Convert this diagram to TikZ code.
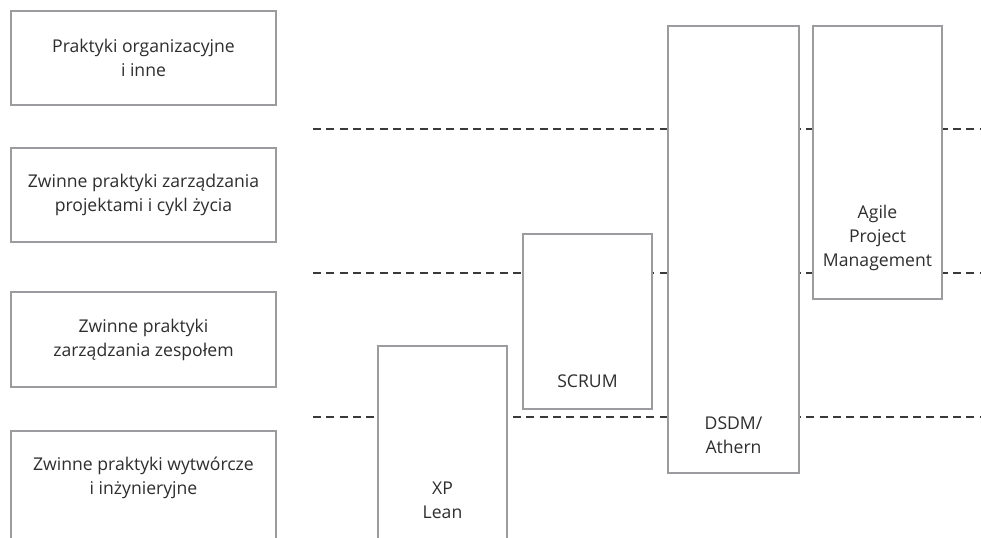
\documentclass[tikz,border=0pt]{standalone}
\usepackage{fontspec}
\setmainfont{Open Sans}
\usetikzlibrary{fit}
\definecolor{boxgray}{HTML}{9C9CA0}
\definecolor{txt}{HTML}{2E2E2E}
\definecolor{dash}{HTML}{3A3A3A}
\tikzset{
  box/.style={draw=boxgray, line width=1.5pt, fill=white, inner sep=0pt},
  lbl/.style={text=txt, align=center, font=\fontsize{13.2pt}{18pt}\selectfont, inner sep=0pt},
  level/.style={draw=dash, line width=0.9pt, dash pattern=on 6pt off 4pt}
}
\begin{document}
\begin{tikzpicture}[x=0.75pt, y=-0.75pt]
  \useasboundingbox (0,0) rectangle (981,538);
  \clip (0,0) rectangle (981,538);

  % level separators
  \coordinate (l1a) at (313,129); \coordinate (l1b) at (981,129);
  \coordinate (l2a) at (313,273); \coordinate (l2b) at (981,273);
  \coordinate (l3a) at (313,417); \coordinate (l3b) at (981,417);
  \draw[level] (l1a) -- (l1b);
  \draw[level] (l2a) -- (l2b);
  \draw[level] (l3a) -- (l3b);

  % practice categories
  \node[box, fit={(11,11) (276,105)}] (org) {};
  \node[box, fit={(11,148) (276,242)}] (proj) {};
  \node[box, fit={(11,292) (276,387)}] (team) {};
  \node[box, fit={(11,431) (276,560)}] (eng) {};
  \node[lbl] at (org.center) {Praktyki organizacyjne\\i inne};
  \node[lbl] at (proj.center) {Zwinne praktyki zarządzania\\projektami i cykl życia};
  \node[lbl] at (team.center) {Zwinne praktyki\\zarządzania zespołem};
  \node[lbl] at (143.5,478) {Zwinne praktyki wytwórcze\\i inżynieryjne};

  % methods
  \node[box, fit={(378,346) (507,560)}] (xp) {};
  \node[box, fit={(523,234) (652,409)}] (scrum) {};
  \node[box, fit={(668,26) (799,473)}] (dsdm) {};
  \node[box, fit={(813,26) (942,299)}] (apm) {};
  \node[lbl] at (442.5,500) {XP\\Lean};
  \node[lbl] at (587.5,381) {SCRUM};
  \node[lbl] at (733.5,435) {DSDM/\\Athern};
  \node[lbl] at (877.5,238) {Agile\\Project\\Management};
\end{tikzpicture}
\end{document}
